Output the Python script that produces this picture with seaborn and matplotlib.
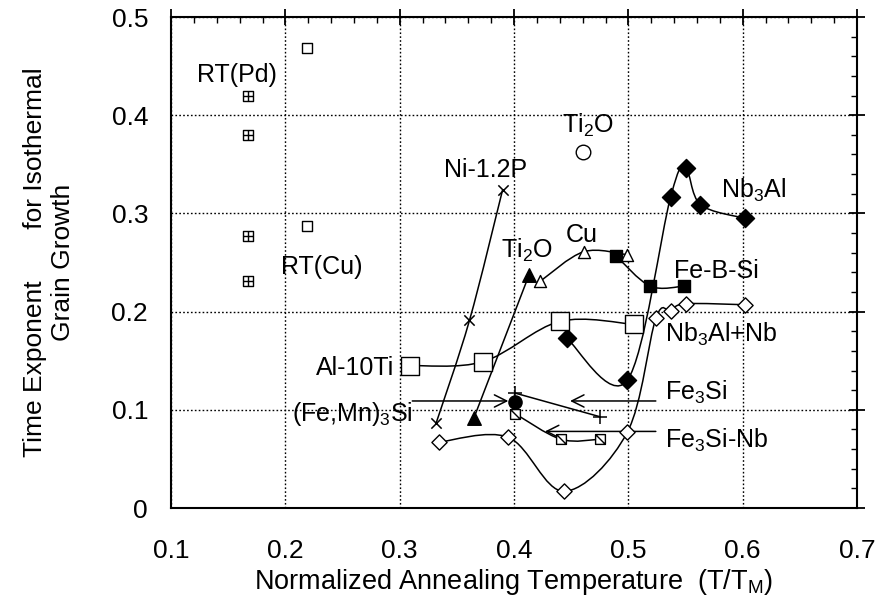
import matplotlib
matplotlib.use("Agg")
import matplotlib.pyplot as plt
from matplotlib.path import Path
from matplotlib.patches import PathPatch
from matplotlib.ticker import MultipleLocator, FuncFormatter
import numpy as np
import seaborn as sns

# ---- data ----
rt_pd_x = [0.167, 0.167, 0.167, 0.167]
rt_pd_y = [0.420, 0.380, 0.277, 0.231]

rt_cu_x = [0.219, 0.219]
rt_cu_y = [0.468, 0.287]

ti2o_circ_x = [0.460]
ti2o_circ_y = [0.363]

ni_x = [0.332, 0.361, 0.390]
ni_y = [0.087, 0.191, 0.324]

ti2o_x = [0.365, 0.413]
ti2o_y = [0.092, 0.237]

cu_x = [0.423, 0.461, 0.499]
cu_y = [0.231, 0.261, 0.258]

febsi_x = [0.489, 0.519, 0.549]
febsi_y = [0.257, 0.226, 0.226]

nb3al_x = [0.446, 0.499, 0.537, 0.550, 0.563, 0.602]
nb3al_y = [0.173, 0.130, 0.317, 0.346, 0.309, 0.295]

nb3alnb_x = [0.334, 0.395, 0.444, 0.499, 0.524, 0.537, 0.550, 0.602]
nb3alnb_y = [0.067, 0.072, 0.017, 0.077, 0.193, 0.201, 0.208, 0.207]

al10ti_x = [0.309, 0.373, 0.440, 0.505]
al10ti_y = [0.145, 0.149, 0.190, 0.187]

femn_x = [0.401]
femn_y = [0.108]

fe3si_x = [0.401, 0.475]
fe3si_y = [0.117, 0.093]

fe3sinb_x = [0.401, 0.441, 0.475]
fe3sinb_y = [0.096, 0.070, 0.070]

x_ticks = [0.1, 0.2, 0.3, 0.4, 0.5, 0.6, 0.7]
y_ticks = [0.0, 0.1, 0.2, 0.3, 0.4, 0.5]

FONT = ["Liberation Sans", "DejaVu Sans"]


def smooth_curve(ax, xs, ys, lw=1.1):
    """Draw a Catmull-Rom style smooth line through the points."""
    pts = np.column_stack([xs, ys])
    n = len(pts)
    verts = [pts[0]]
    codes = [Path.MOVETO]
    for i in range(n - 1):
        p0 = pts[i - 1] if i > 0 else pts[i]
        p1 = pts[i]
        p2 = pts[i + 1]
        p3 = pts[i + 2] if i + 2 < n else pts[i + 1]
        c1 = p1 + (p2 - p0) / 6.0
        c2 = p2 - (p3 - p1) / 6.0
        verts += [c1, c2, p2]
        codes += [Path.CURVE4] * 3
    patch = PathPatch(Path(verts, codes), facecolor="none", edgecolor="black",
                      lw=lw, zorder=2)
    ax.add_patch(patch)


def boxed_marker(kind):
    sq = [(-1, -1), (1, -1), (1, 1), (-1, 1), (-1, -1)]
    sq_codes = [Path.MOVETO, Path.LINETO, Path.LINETO, Path.LINETO, Path.CLOSEPOLY]
    if kind == "plus":
        extra = [(0, -1), (0, 1), (-1, 0), (1, 0)]
        extra_codes = [Path.MOVETO, Path.LINETO, Path.MOVETO, Path.LINETO]
    else:
        extra = [(-1, 1), (1, -1)]
        extra_codes = [Path.MOVETO, Path.LINETO]
    return Path(sq + extra, sq_codes + extra_codes)


def points(ax, xs, ys, marker, size, face="black", lw=1.0):
    sns.scatterplot(x=xs, y=ys, marker=marker, s=size, color="black",
                    facecolor=face, edgecolor="black", linewidth=lw,
                    ax=ax, zorder=4, legend=False)


sns.set_theme(style="white")
plt.rcParams["font.family"] = FONT
plt.rcParams["mathtext.fontset"] = "custom"
plt.rcParams["mathtext.rm"] = "Liberation Sans"
plt.rcParams["mathtext.it"] = "Liberation Sans:italic"

fig = plt.figure(figsize=(8.83, 6.05), dpi=100)
ax = fig.add_axes([0.1937, 0.1603, 0.7769, 0.8116])

# curves
smooth_curve(ax, ni_x, ni_y)
smooth_curve(ax, ti2o_x, ti2o_y)
smooth_curve(ax, cu_x, cu_y)
smooth_curve(ax, febsi_x, febsi_y)
smooth_curve(ax, nb3al_x, nb3al_y)
smooth_curve(ax, nb3alnb_x, nb3alnb_y)
smooth_curve(ax, al10ti_x, al10ti_y)
smooth_curve(ax, fe3si_x, fe3si_y)
smooth_curve(ax, fe3sinb_x, fe3sinb_y)

# markers
points(ax, rt_pd_x, rt_pd_y, boxed_marker("plus"), 45, face="white", lw=1.0)
points(ax, rt_cu_x, rt_cu_y, "s", 45, face="white", lw=1.0)
points(ax, ti2o_circ_x, ti2o_circ_y, "o", 110, face="white", lw=1.0)
points(ax, ni_x, ni_y, "x", 55, lw=1.1)
points(ax, ti2o_x, ti2o_y, "^", 95)
points(ax, cu_x, cu_y, "^", 75, face="white", lw=1.0)
points(ax, febsi_x, febsi_y, "s", 85)
points(ax, nb3al_x, nb3al_y, "D", 85)
points(ax, nb3alnb_x, nb3alnb_y, "D", 60, face="white", lw=1.0)
points(ax, al10ti_x, al10ti_y, "s", 150, face="white", lw=1.0)
points(ax, femn_x, femn_y, "o", 90)
points(ax, fe3si_x, fe3si_y, "+", 110, lw=1.1)
points(ax, fe3sinb_x, fe3sinb_y, boxed_marker("slash"), 50, face="white", lw=1.0)

# arrows
arrow = dict(arrowstyle="->", lw=1.1, color="black", mutation_scale=22,
             shrinkA=0, shrinkB=0)
ax.annotate("", xy=(0.395, 0.109), xytext=(0.311, 0.109), arrowprops=arrow)
ax.annotate("", xy=(0.449, 0.109), xytext=(0.524, 0.109), arrowprops=arrow)
ax.annotate("", xy=(0.427, 0.078), xytext=(0.524, 0.078), arrowprops=arrow)

# labels
lab = dict(fontsize=18, va="baseline", color="black", zorder=5)
ax.text(0.123, 0.434, "RT(Pd)", ha="left", **lab)
ax.text(0.196, 0.238, "RT(Cu)", ha="left", **lab)
ax.text(0.339, 0.337, "Ni-1.2P", ha="left", **lab)
ax.text(0.442, 0.382, "Ti$_2$O", ha="left", **lab)
ax.text(0.389, 0.255, "Ti$_2$O", ha="left", **lab)
ax.text(0.445, 0.271, "Cu", ha="left", **lab)
ax.text(0.581, 0.316, "Nb$_3$Al", ha="left", **lab)
ax.text(0.540, 0.234, "Fe-B-Si", ha="left", **lab)
ax.text(0.532, 0.169, "Nb$_3$Al+Nb", ha="left", **lab)
ax.text(0.532, 0.110, "Fe$_3$Si", ha="left", **lab)
ax.text(0.532, 0.061, "Fe$_3$Si-Nb", ha="left", **lab)
ax.text(0.295, 0.135, "Al-10Ti", ha="right", **lab)
ax.text(0.311, 0.089, "(Fe,Mn)$_3$Si", ha="right", **lab)

# axes styling
ax.set_xlim(0.1, 0.7)
ax.set_ylim(0.0, 0.5)
ax.set_xticks(x_ticks)
ax.set_yticks(y_ticks)
ax.xaxis.set_minor_locator(MultipleLocator(0.02))
ax.yaxis.set_minor_locator(MultipleLocator(0.02))
ax.xaxis.set_major_formatter(FuncFormatter(lambda v, p: f"{v:.1f}"))
ax.yaxis.set_major_formatter(FuncFormatter(lambda v, p: "0" if abs(v) < 1e-9 else f"{v:.1f}"))
ax.tick_params(which="major", direction="inout", length=11, width=1.3,
               top=True, right=True, labelsize=19, colors="black")
ax.tick_params(axis="x", which="major", pad=17)
ax.tick_params(axis="y", which="major", pad=11)
ax.tick_params(which="minor", direction="in", length=4, width=1.0,
               top=True, right=True, colors="black")
for s in ax.spines.values():
    s.set_linewidth(1.5)
    s.set_color("black")
ax.grid(True, which="major", linestyle=(0, (1.2, 1.6)), color="black", lw=1.0)
ax.set_axisbelow(True)

ax.set_xlabel(r"Normalized Annealing Temperature  (T/T$_\mathrm{M}$)", fontsize=19.5,
              color="black", labelpad=3)
ax.set_ylabel("Time Exponent       for Isothermal\nGrain Growth", fontsize=19,
              color="black", labelpad=26, linespacing=1.25)

fig.savefig("out.png", dpi=100)
plt.close(fig)
